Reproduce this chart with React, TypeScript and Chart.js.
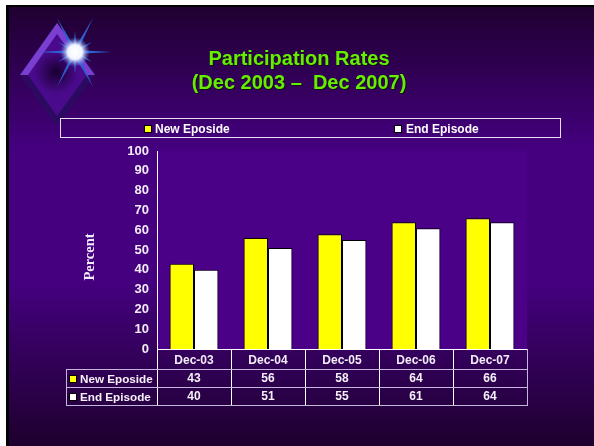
import React, { useEffect, useRef } from "react";
import { Chart, registerables } from "chart.js";

Chart.register(...registerables);

const categories = ["Dec-03", "Dec-04", "Dec-05", "Dec-06", "Dec-07"];
const newEpisode = [43, 56, 58, 64, 66];
const endEpisode = [40, 51, 55, 61, 64];
const seriesNames = ["New Eposide", "End Episode"];
const titleLines = ["Participation Rates", "(Dec 2003 \u2013  Dec 2007)"];
const yTicks = [0, 10, 20, 30, 40, 50, 60, 70, 80, 90, 100];
const colours = ["#ffff00", "#ffffff"];
const yAxisTitle = "Percent";

const ARIAL = '"Liberation Sans", Arial, sans-serif';

const slidePlugin = {
  id: "slide",
  beforeDraw(chart: any) {
    const { ctx, width, height, chartArea: a } = chart;
    ctx.save();
    ctx.fillStyle = "#ffffff";
    ctx.fillRect(0, 0, width, height);
    const g = ctx.createLinearGradient(0, 6, 0, 446);
    g.addColorStop(0, "#1f0030");
    g.addColorStop(0.33, "#450080");
    g.addColorStop(0.62, "#450080");
    g.addColorStop(1, "#1e002e");
    ctx.fillStyle = g;
    ctx.fillRect(6, 5, width - 6, height - 5);
    ctx.fillStyle = "#000000";
    ctx.fillRect(6, 5, width - 6, 2);
    ctx.fillRect(6, 5, 3, height - 5);
    ctx.fillStyle = "#4b0088";
    ctx.fillRect(a.left, a.top, a.width, a.height);

    // logo diamond
    ctx.beginPath();
    ctx.moveTo(57, 23); ctx.lineTo(95, 75); ctx.lineTo(57, 126); ctx.lineTo(20, 75); ctx.closePath();
    ctx.fillStyle = "#2c0a62";
    ctx.fill();
    ctx.beginPath();
    ctx.moveTo(57, 34); ctx.lineTo(87, 75); ctx.lineTo(57, 116); ctx.lineTo(28, 75); ctx.closePath();
    const d = ctx.createRadialGradient(56, 72, 2, 56, 72, 22);
    d.addColorStop(0, "#1c0038");
    d.addColorStop(1, "#4a0a8c");
    ctx.fillStyle = d;
    ctx.fill();
    ctx.beginPath();
    ctx.moveTo(57, 23); ctx.lineTo(95, 75); ctx.lineTo(87, 75); ctx.lineTo(57, 34); ctx.lineTo(28, 75); ctx.lineTo(20, 75); ctx.closePath();
    ctx.fillStyle = "#7a3fd0";
    ctx.fill();

    // star
    const cx = 75, cy = 52;
    const rays = [[37, 0], [-38, 0], [0, -21], [0, 22], [18, -34], [-18, 35], [-18, -34], [18, 35], [17, -10], [-17, 10], [17, 10], [-17, -10]];
    ctx.fillStyle = "#2f5fd0";
    rays.forEach(([x, y]) => {
      const len = Math.hypot(x, y);
      const nx = (-y / len) * 2, ny = (x / len) * 2;
      ctx.beginPath();
      ctx.moveTo(cx + nx, cy + ny);
      ctx.lineTo(cx + x, cy + y);
      ctx.lineTo(cx - nx, cy - ny);
      ctx.closePath();
      ctx.fill();
    });
    const s = ctx.createRadialGradient(cx, cy, 1, cx, cy, 15);
    s.addColorStop(0, "#ffffff");
    s.addColorStop(0.45, "#f0f4ff");
    s.addColorStop(1, "rgba(90,130,230,0)");
    ctx.fillStyle = s;
    ctx.beginPath();
    ctx.arc(cx, cy, 15, 0, Math.PI * 2);
    ctx.fill();

    // title
    ctx.textAlign = "center";
    ctx.textBaseline = "middle";
    ctx.font = `bold 20px ${ARIAL}`;
    titleLines.forEach((t, i) => {
      const y = 59 + i * 24;
      ctx.fillStyle = "#101010";
      ctx.fillText(t, 300, y + 1);
      ctx.fillStyle = "#66ee00";
      ctx.fillText(t, 299, y);
    });

    // legend
    ctx.strokeStyle = "#e8e0f0";
    ctx.lineWidth = 1;
    ctx.strokeRect(60.5, 118.5, 500, 19);
    ctx.font = `bold 12px ${ARIAL}`;
    ctx.textAlign = "left";
    const mx = [145, 395];
    const tx = [155, 406];
    seriesNames.forEach((n, i) => {
      ctx.fillStyle = colours[i];
      ctx.strokeStyle = "#000000";
      ctx.fillRect(mx[i], 126, 6, 6);
      ctx.strokeRect(mx[i] - 0.5, 125.5, 7, 7);
      ctx.fillStyle = "#ffffff";
      ctx.fillText(n, tx[i], 129.5);
    });

    // y axis title
    ctx.translate(90, 257);
    ctx.rotate(-Math.PI / 2);
    ctx.textAlign = "center";
    ctx.font = 'bold 14.5px "Liberation Serif", "Times New Roman", serif';
    ctx.fillStyle = "#f2ecf8";
    ctx.fillText(yAxisTitle, 0, 0);
    ctx.restore();
  },
  afterDraw(chart: any) {
    const { ctx, chartArea: a, scales } = chart;
    const step = a.width / categories.length;
    const rowY = [a.bottom, a.bottom + 20, a.bottom + 38, a.bottom + 56];
    ctx.save();
    ctx.lineWidth = 1;
    ctx.strokeStyle = "#ffffff";
    ctx.beginPath();
    for (let i = 0; i < categories.length; i++) {
      const x = Math.round(a.left + i * step) + 0.5;
      ctx.moveTo(x, rowY[0]);
      ctx.lineTo(x, rowY[3]);
    }
    ctx.moveTo(a.left, rowY[0] + 0.5);
    ctx.lineTo(a.right + 1, rowY[0] + 0.5);
    ctx.stroke();

    ctx.strokeStyle = "#c4b6dc";
    ctx.beginPath();
    for (let r = 1; r < 4; r++) {
      ctx.moveTo(66, rowY[r] + 0.5);
      ctx.lineTo(a.right + 1, rowY[r] + 0.5);
    }
    ctx.moveTo(66.5, rowY[1]);
    ctx.lineTo(66.5, rowY[3]);
    ctx.moveTo(a.right + 0.5, rowY[0]);
    ctx.lineTo(a.right + 0.5, rowY[3]);
    ctx.stroke();

    ctx.textBaseline = "middle";
    [newEpisode, endEpisode].forEach((vals, r) => {
      const y = rowY[r + 1] + 9.5;
      ctx.textAlign = "left";
      ctx.fillStyle = colours[r];
      ctx.strokeStyle = "#000000";
      ctx.fillRect(70, y - 2.5, 6, 6);
      ctx.strokeRect(69.5, y - 3, 7, 7);
      ctx.fillStyle = "#f6f0fa";
      ctx.font = `bold 11.7px ${ARIAL}`;
      ctx.fillText(seriesNames[r], 80, y + 1.5);
      ctx.textAlign = "center";
      ctx.font = `bold 12px ${ARIAL}`;
      vals.forEach((v, i) => {
        ctx.fillText(String(v), scales.x.getPixelForValue(i), y);
      });
    });
    ctx.restore();
  },
};

export default function App() {
  const ref = useRef<HTMLCanvasElement>(null);
  useEffect(() => {
    const chart = new Chart(ref.current!, {
      type: "bar",
      data: {
        labels: categories,
        datasets: [
          { label: seriesNames[0], data: newEpisode, backgroundColor: colours[0], borderColor: "#000000", borderWidth: 1 },
          { label: seriesNames[1], data: endEpisode, backgroundColor: colours[1], borderColor: "#000000", borderWidth: 1 },
        ],
      },
      options: {
        responsive: false,
        animation: false,
        layout: { padding: { left: 84, right: 67, top: 151, bottom: 77 } },
        plugins: { legend: { display: false }, title: { display: false }, tooltip: { enabled: false } },
        datasets: { bar: { categoryPercentage: 0.66, barPercentage: 1 } },
        scales: {
          x: {
            afterFit: (axis: any) => {
              axis.height = 20;
            },
            grid: { display: false, drawTicks: false },
            border: { color: "#ffffff" },
            ticks: { color: "#f2ecf8", font: { family: ARIAL, weight: "bold", size: 12 }, padding: 4, maxRotation: 0 },
          },
          y: {
            min: 0,
            max: 100,
            afterBuildTicks: (axis: any) => {
              axis.ticks = yTicks.map((value) => ({ value }));
            },
            afterFit: (axis: any) => {
              axis.width = 73;
            },
            grid: { display: false, drawTicks: true, tickLength: 5, tickColor: "#ffffff" },
            border: { color: "#ffffff", width: 1 },
            ticks: { color: "#f2ecf8", font: { family: ARIAL, weight: "bold", size: 13 }, padding: 3 },
          },
        },
      } as any,
      plugins: [slidePlugin],
    });
    return () => chart.destroy();
  }, []);
  return (
    <div style={{ position: "fixed", left: 0, top: 0, width: 594, height: 446 }}>
      <canvas ref={ref} width={594} height={446} style={{ display: "block" }} />
    </div>
  );
}
